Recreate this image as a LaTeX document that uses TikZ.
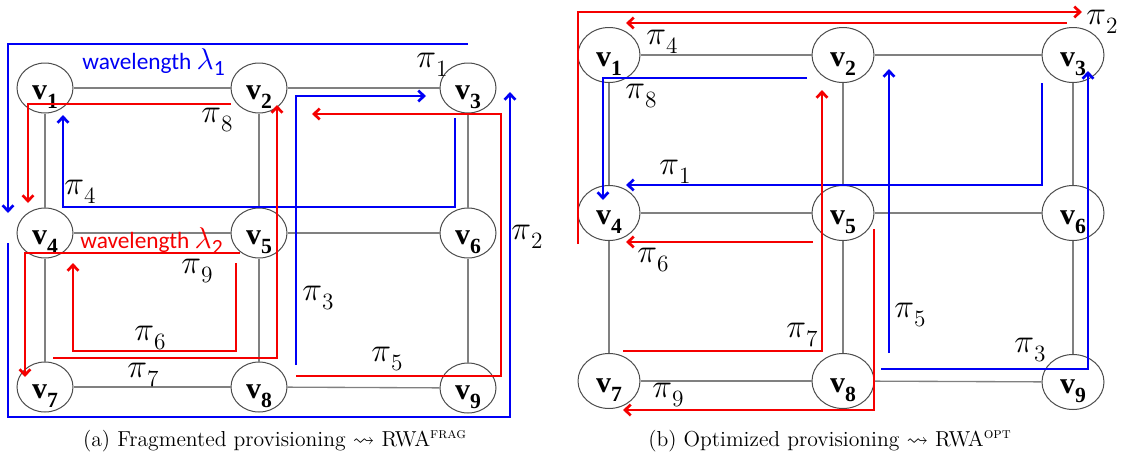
\RequirePackage{fix-cm}
\documentclass[tikz,border=0pt]{standalone}
\usepackage{amssymb}
\usepackage{fontspec}
\usetikzlibrary{arrows.meta,shapes.geometric}
\newfontfamily\tnr{Liberation Serif}
\newfontfamily\calfont{Carlito}
\newcommand\vl[1]{v\raisebox{-0.3em}{\fontsize{13}{13}\selectfont #1}}
\newcommand\pl[1]{{\fontsize{20}{20}\selectfont$\pi$}\raisebox{-0.3em}{\fontsize{14}{14}\selectfont #1}}
\newcommand\lam[1]{{\fontsize{18}{18}\selectfont$\lambda$\raisebox{-0.2em}{\fontsize{13}{13}\selectfont #1}}}
\definecolor{pblue}{RGB}{0,0,245}
\definecolor{pred}{RGB}{245,0,0}
\tikzset{
  vtxa/.style={draw=black!70, line width=0.6pt, ellipse, inner sep=0pt,
    minimum width=33.6pt, minimum height=30pt, text height=13.6pt, text depth=0pt,
    font=\fontsize{18}{20}\selectfont\tnr\bfseries},
  vtxb/.style={vtxa, minimum width=37.2pt, minimum height=33pt},
  edge/.style={draw=black!50, line width=0.8pt},
  tip/.style={-{Straight Barb[length=3.5pt,width=6.5pt]}},
  bpath/.style={draw=pblue, line width=1.6pt},
  rpath/.style={draw=pred, line width=1.6pt},
  plab/.style={inner sep=0pt, font=\fontsize{18}{20}\selectfont},
  wlab/.style={inner sep=0pt, anchor=base west, font=\fontsize{14}{16}\selectfont\calfont},
  captext/.style={inner sep=0pt, font=\fontsize{13}{15}\selectfont}
}
\begin{document}
\begin{tikzpicture}[x=0.6pt,y=-0.6pt]
\useasboundingbox (0,0) rectangle (1125,466);
% ---------- panel (a) ----------
\node[vtxa] (a1) at (45,88) {\vl{1}};
\node[vtxa] (a2) at (259,88) {\vl{2}};
\node[vtxa] (a3) at (468,88) {\vl{3}};
\node[vtxa] (a4) at (45,233) {\vl{4}};
\node[vtxa] (a5) at (259,233) {\vl{5}};
\node[vtxa] (a6) at (468,233) {\vl{6}};
\node[vtxa] (a7) at (45,387) {\vl{7}};
\node[vtxa] (a8) at (259,387) {\vl{8}};
\node[vtxa] (a9) at (468,388) {\vl{9}};
\foreach \u/\v in {a1/a2,a2/a3,a4/a5,a5/a6,a7/a8,a8/a9,a1/a4,a4/a7,a2/a5,a5/a8,a3/a6,a6/a9}
  \draw[edge] (\u) -- (\v);
% paths
\draw[bpath,tip] (468,44) -- (8,44) -- (8,213);
\draw[rpath,tip] (231,104) -- (28,104) -- (28,203);
\draw[bpath,tip] (455,118) -- (455,207) -- (63,207) -- (63,115);
\draw[rpath,tip] (53,358) -- (277,358) -- (277,105);
\draw[rpath,tip] (236,263) -- (236,351) -- (73,351) -- (73,263);
\draw[rpath,tip] (240,253) -- (25,253) -- (25,377);
\draw[rpath,tip] (296,376) -- (501,376) -- (501,114) -- (312,114);
\draw[bpath,tip] (8,243) -- (8,417) -- (510,417) -- (510,92);
\draw[bpath,tip] (296,365) -- (296,96) -- (426,96);
% labels
\node[wlab,text=pblue] (wl1) at (82,69) {wavelength \lam{1}};
\node[wlab,text=pred] (wl2) at (80,248) {wavelength \lam{2}};
\node[plab] (ap1) at (432,65) {\pl{1}};
\node[plab] (ap2) at (527,237) {\pl{2}};
\node[plab] (ap3) at (318,298) {\pl{3}};
\node[plab] (ap4) at (80,192) {\pl{4}};
\node[plab] (ap5) at (387,359) {\pl{5}};
\node[plab] (ap6) at (150,338) {\pl{6}};
\node[plab] (ap7) at (143,375) {\pl{7}};
\node[plab] (ap8) at (217,120) {\pl{8}};
\node[plab] (ap9) at (197,271) {\pl{9}};
% ---------- panel (b) ----------
\node[vtxb] (b1) at (609,55) {\vl{1}};
\node[vtxb] (b2) at (843,55) {\vl{2}};
\node[vtxb] (b3) at (1073,55) {\vl{3}};
\node[vtxb] (b4) at (609,213) {\vl{4}};
\node[vtxb] (b5) at (843,213) {\vl{5}};
\node[vtxb] (b6) at (1073,213) {\vl{6}};
\node[vtxb] (b7) at (609,381) {\vl{7}};
\node[vtxb] (b8) at (843,381) {\vl{8}};
\node[vtxb] (b9) at (1073,382) {\vl{9}};
\foreach \u/\v in {b1/b2,b2/b3,b4/b5,b5/b6,b7/b8,b8/b9,b1/b4,b4/b7,b2/b5,b5/b8,b3/b6,b6/b9}
  \draw[edge] (\u) -- (\v);
\draw[rpath,tip] (578,244) -- (578,12) -- (1082,12);
\draw[rpath,tip] (1067,23) -- (626,23);
\draw[bpath,tip] (807,78) -- (603,78) -- (603,200);
\draw[bpath,tip] (1042,83) -- (1042,185) -- (626,185);
\draw[bpath,tip] (889,353) -- (889,69);
\draw[bpath,tip] (881,369) -- (1088,369) -- (1088,71);
\draw[rpath,tip] (623,351) -- (822,351) -- (822,90);
\draw[rpath,tip] (813,242) -- (626,242);
\draw[rpath,tip] (874,229) -- (874,410) -- (623,410);
\node[plab] (bp1) at (675,172) {\pl{1}};
\node[plab] (bp2) at (1102,22) {\pl{2}};
\node[plab] (bp3) at (1030,350) {\pl{3}};
\node[plab] (bp4) at (662,42) {\pl{4}};
\node[plab] (bp5) at (910,315) {\pl{5}};
\node[plab] (bp6) at (653,260) {\pl{6}};
\node[plab] (bp7) at (802,335) {\pl{7}};
\node[plab] (bp8) at (641,96) {\pl{8}};
\node[plab] (bp9) at (668,395) {\pl{9}};
% captions
\node[captext] (capa) at (275,441) {(a) Fragmented provisioning $\leadsto$ RWA\textsuperscript{\textsc{frag}}};
\node[captext] (capb) at (830,441) {(b) Optimized provisioning $\leadsto$ RWA\textsuperscript{\textsc{opt}}};
\end{tikzpicture}
\end{document}
